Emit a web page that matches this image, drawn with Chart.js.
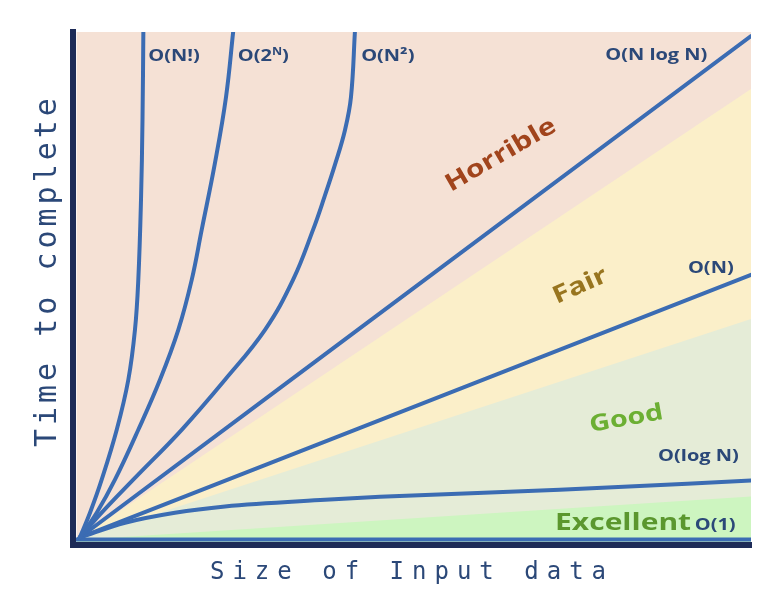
<!DOCTYPE html>
<html>
<head>
<meta charset="utf-8">
<script src="https://cdn.jsdelivr.net/npm/chart.js@4/dist/chart.umd.min.js"></script>
<style>
html,body{margin:0;padding:0;background:#ffffff;}
canvas{display:block;}
</style>
</head>
<body>
<canvas id="chart" width="779" height="603"></canvas>
<script>
// ---- data (size of input 0-100, time to complete 0-100) ----
const factorialSize = [1, 2.51, 4.23, 6.45, 8.16, 9.14, 9.63, 10.03, 10.25, 10.38];
const factorialTime = [1.5, 6.33, 12.76, 22.49, 32.24, 41.97, 51.70, 67.29, 82.86, 100.5];
const exponentialSize = [1, 3.50, 6.19, 9.63, 12.83, 15.53, 17.51, 18.98, 20.94, 22.57, 23.66];
const exponentialTime = [1.5, 6.33, 12.76, 22.49, 32.24, 41.97, 51.70, 61.44, 74.49, 87.34, 100.5];
const quadraticSize = [1, 4.23, 8.89, 16.03, 22.42, 28.32, 32.45, 35.40, 37.09, 38.72, 40.12, 41.00, 41.60];
const quadraticTime = [1.5, 6.33, 12.76, 22.49, 32.24, 41.97, 51.70, 61.44, 67.87, 74.49, 80.92, 87.34, 100.5];
const nLogNSize = [1, 100];
const nLogNTime = [1.5, 99.2];
const linearSize = [1, 100];
const linearTime = [1.5, 52.7];
const logSize = [1, 7.67, 15.04, 22.42, 37.17, 45.28, 71.8, 100];
const logTime = [1.5, 4.38, 6.33, 7.56, 8.86, 9.45, 10.8, 12.6];
const constantSize = [0, 100];
const constantTime = [1.1, 1.1];

// zone boundaries (upper edge of each zone)
const boundarySize = [0.5, 100];
const horribleTop = [100, 100];
const fairTop = [1.0, 88.9];
const goodTop = [1.0, 44.1];
const excellentTop = [1.0, 9.5];

// text
const xTitle = 'Size of Input data';
const yTitle = 'Time to complete';
const curveLabels = [
  {parts: [{t: 'O(N!)'}], x: 11.1, y: 94.3},
  {parts: [{t: 'O(2'}, {t: 'N', sup: true}, {t: ')'}], x: 24.3, y: 94.3},
  {parts: [{t: 'O(N²)'}], x: 42.5, y: 94.3},
  {parts: [{t: 'O(N log N)'}], x: 78.5, y: 94.5},
  {parts: [{t: 'O(N)'}], x: 90.7, y: 53.1},
  {parts: [{t: 'O(log N)'}], x: 86.3, y: 16.45},
  {parts: [{t: 'O(1)'}], x: 91.7, y: 3.0}
];
const zoneLabels = [
  {text: 'Horrible', x: 63.1, y: 76.0},
  {text: 'Fair', x: 74.8, y: 50.5},
  {text: 'Good', x: 81.6, y: 24.6},
  {text: 'Excellent', x: 71.1, y: 3.0}
];

// ---- styles ----
const lineBlue = '#3b6cb3';
const axisNavy = '#1d2b57';
const labelNavy = '#2b4878';
const zoneStyles = [
  {angle: -30, color: '#a1441c', size: 24, align: 'center', baseline: 'middle'},
  {angle: -24, color: '#98751f', size: 24, align: 'center', baseline: 'middle'},
  {angle: -10, color: '#6caf33', size: 23, align: 'center', baseline: 'middle'},
  {angle: 0, color: '#5b972e', size: 24, align: 'left', baseline: 'alphabetic'}
];
const textStretch = 1.25;

function pts(xs, ys) { return xs.map((x, i) => ({x: x, y: ys[i]})); }
function curve(label, xs, ys, steep) {
  const ds = {label: label, data: pts(xs, ys), borderColor: lineBlue, borderWidth: 4,
    pointRadius: 0, fill: false, order: 1, borderCapStyle: 'round'};
  if (steep) { ds.tension = 0.4; } else { ds.cubicInterpolationMode = 'monotone'; }
  return ds;
}
function zone(label, xs, ys, color, order) {
  return {label: label, data: pts(xs, ys), borderWidth: 0, borderColor: 'rgba(0,0,0,0)',
    backgroundColor: color, pointRadius: 0, fill: 'start', order: order, tension: 0};
}

const titleSpacing = {x: '8px', y: '4px'};
const titleShift = {x: [0, 0], y: [0, -18]};
const spacingPlugin = {
  id: 'titleSpacing',
  afterLayout(chart) {
    ['x', 'y'].forEach(id => {
      const s = chart.scales[id];
      if (s && !s._spacedTitle) {
        const orig = s.drawTitle;
        s.drawTitle = function () {
          const ctx = this.ctx;
          ctx.save();
          ctx.letterSpacing = titleSpacing[id];
          ctx.translate(titleShift[id][0], titleShift[id][1]);
          orig.call(this);
          ctx.restore();
        };
        s._spacedTitle = true;
      }
    });
  }
};

const labelPlugin = {
  id: 'curveLabels',
  afterDatasetsDraw(chart) {
    const ctx = chart.ctx;
    const xs = chart.scales.x, ys = chart.scales.y;
    curveLabels.forEach(l => {
      ctx.save();
      ctx.translate(xs.getPixelForValue(l.x), ys.getPixelForValue(l.y));
      ctx.scale(textStretch, 1);
      ctx.fillStyle = labelNavy;
      ctx.textAlign = 'left';
      ctx.textBaseline = 'alphabetic';
      let cx = 0;
      l.parts.forEach(p => {
        ctx.font = p.sup ? 'bold 10px "Open Sans"' : 'bold 16px "Open Sans"';
        ctx.fillText(p.t, cx, p.sup ? -6 : 0);
        cx += ctx.measureText(p.t).width;
      });
      ctx.restore();
    });
    zoneLabels.forEach((l, i) => {
      const st = zoneStyles[i];
      ctx.save();
      ctx.translate(xs.getPixelForValue(l.x), ys.getPixelForValue(l.y));
      ctx.rotate(st.angle * Math.PI / 180);
      ctx.scale(textStretch, 1);
      ctx.fillStyle = st.color;
      ctx.font = 'bold ' + st.size + 'px "Open Sans"';
      ctx.textAlign = st.align;
      ctx.textBaseline = st.baseline;
      ctx.fillText(l.text, 0, 0);
      ctx.restore();
    });
  }
};

new Chart(document.getElementById('chart'), {
  type: 'line',
  data: {
    datasets: [
      curve('O(N!)', factorialSize, factorialTime, true),
      curve('O(2^N)', exponentialSize, exponentialTime, true),
      curve('O(N^2)', quadraticSize, quadraticTime, true),
      curve('O(N log N)', nLogNSize, nLogNTime, false),
      curve('O(N)', linearSize, linearTime, false),
      curve('O(log N)', logSize, logTime, false),
      curve('O(1)', constantSize, constantTime, false),
      zone('Horrible', boundarySize, horribleTop, '#f5e1d5', 10),
      zone('Fair', boundarySize, fairTop, '#fbefc9', 9),
      zone('Good', boundarySize, goodTop, '#e5ecd7', 8),
      zone('Excellent', boundarySize, excellentTop, '#cdf5c0', 7)
    ]
  },
  options: {
    responsive: false,
    devicePixelRatio: 1,
    animation: false,
    layout: {padding: {top: 32, right: 28, left: 0, bottom: 0}},
    plugins: {legend: {display: false}, tooltip: {enabled: false}},
    scales: {
      x: {
        type: 'linear', min: 0, max: 100,
        grid: {display: false, drawTicks: false},
        ticks: {display: false},
        border: {display: true, color: axisNavy, width: 6, z: 1},
        title: {display: true, text: xTitle, color: labelNavy,
          font: {family: '"DejaVu Sans Mono"', size: 24, weight: 'normal'},
          padding: {top: 13, bottom: 16}}
      },
      y: {
        type: 'linear', min: 0, max: 100,
        grid: {display: false, drawTicks: false},
        ticks: {display: false},
        border: {display: true, color: axisNavy, width: 6, z: 1},
        title: {display: true, text: yTitle, color: labelNavy,
          font: {family: '"DejaVu Sans Mono"', size: 30, weight: 'normal'},
          padding: {top: 30, bottom: 7}}
      }
    }
  },
  plugins: [spacingPlugin, labelPlugin]
});
</script>
</body>
</html>
